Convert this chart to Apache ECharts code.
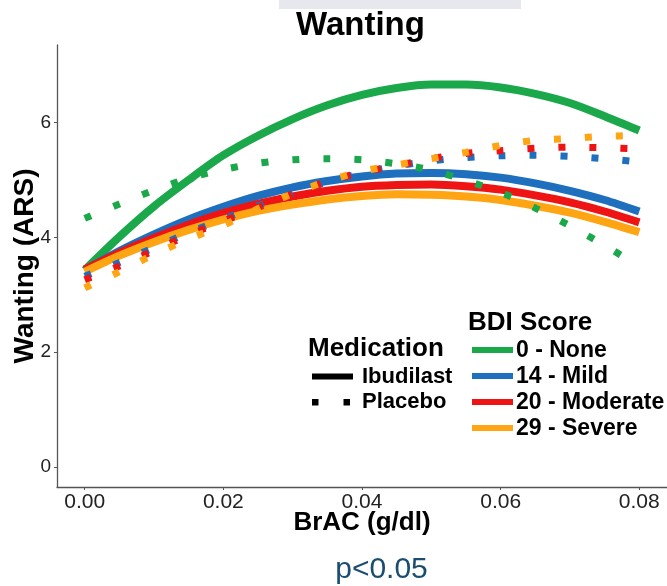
<!DOCTYPE html>
<html>
<head>
<meta charset="utf-8">
<script src="https://cdn.jsdelivr.net/npm/echarts@6/dist/echarts.min.js"></script>
<style>
html,body{margin:0;padding:0;background:#fff;}
#chart{width:667px;height:586px;}
</style>
</head>
<body>
<div id="chart"></div>
<script>
// BrAC (g/dl) sample points
const brac = [0, 0.005, 0.01, 0.015, 0.02, 0.025, 0.03, 0.035, 0.04, 0.045, 0.05, 0.055, 0.06, 0.065, 0.07, 0.075, 0.08];
// Ibudilast (solid) by BDI score
const ibudNone     = [3.43, 4.01, 4.54, 5.00, 5.43, 5.77, 6.06, 6.30, 6.48, 6.60, 6.66, 6.66, 6.61, 6.50, 6.34, 6.11, 5.86];
const ibudMild     = [3.43, 3.76, 4.05, 4.31, 4.53, 4.72, 4.87, 4.98, 5.06, 5.11, 5.12, 5.10, 5.04, 4.94, 4.81, 4.65, 4.45];
const ibudModerate = [3.44, 3.73, 3.99, 4.22, 4.42, 4.58, 4.71, 4.81, 4.88, 4.91, 4.92, 4.89, 4.83, 4.73, 4.61, 4.45, 4.26];
const ibudSevere   = [3.40, 3.68, 3.92, 4.13, 4.31, 4.46, 4.57, 4.66, 4.72, 4.75, 4.74, 4.71, 4.65, 4.55, 4.43, 4.27, 4.09];
// Placebo (dotted) by BDI score
const placNone     = [4.33, 4.58, 4.82, 5.03, 5.18, 5.29, 5.35, 5.37, 5.35, 5.28, 5.17, 4.99, 4.78, 4.51, 4.20, 3.86, 3.49];
const placMild     = [3.32, 3.56, 3.82, 4.08, 4.32, 4.55, 4.77, 4.96, 5.12, 5.24, 5.33, 5.39, 5.42, 5.43, 5.41, 5.37, 5.31];
const placModerate = [3.26, 3.50, 3.77, 4.04, 4.28, 4.52, 4.76, 4.97, 5.13, 5.25, 5.37, 5.46, 5.51, 5.55, 5.57, 5.56, 5.54];
const placSevere   = [3.12, 3.40, 3.70, 3.97, 4.21, 4.50, 4.76, 4.98, 5.15, 5.26, 5.37, 5.48, 5.60, 5.69, 5.72, 5.76, 5.77];

const xTicks = [0, 0.02, 0.04, 0.06, 0.08];
const yTicks = [0, 2, 4, 6];
const bdiLabels = ['0 - None', '14 - Mild', '20 - Moderate', '29 - Severe'];
const medLabels = ['Ibudilast', 'Placebo'];
const colors = ['#1aa84b', '#1f6fbf', '#ee1414', '#ffa514'];

const FONT = 'Liberation Sans, Arial, Helvetica, sans-serif';

function pts(ys) { return brac.map((x, i) => [x, ys[i]]); }

const ibud = [ibudNone, ibudMild, ibudModerate, ibudSevere];
const plac = [placNone, placMild, placModerate, placSevere];

const series = [];
ibud.forEach((ys, i) => {
  series.push({
    name: medLabels[0] + ' ' + bdiLabels[i], type: 'line', data: pts(ys), smooth: 0.3,
    showSymbol: false, symbol: 'none',
    lineStyle: { color: colors[i], width: 8, cap: 'butt' }, z: 2
  });
});
plac.forEach((ys, i) => {
  series.push({
    name: medLabels[1] + ' ' + bdiLabels[i], type: 'line', data: pts(ys), smooth: 0.3,
    showSymbol: false, symbol: 'none',
    lineStyle: { color: colors[i], width: 7, type: [7, 24], cap: 'butt' }, z: 3
  });
});

// legend (drawn as graphic)
const graphic = [
  { type: 'rect', shape: { x: 279, y: 0, width: 242, height: 9 }, style: { fill: '#e7e8ee' }, silent: true },
  { type: 'text', x: 468, y: 323, style: { text: 'BDI Score', font: 'bold 26px ' + FONT, fill: '#000', textVerticalAlign: 'middle' } },
  { type: 'text', x: 308, y: 349, style: { text: 'Medication', font: 'bold 26px ' + FONT, fill: '#000', textVerticalAlign: 'middle' } },
  { type: 'rect', shape: { x: 312, y: 373.5, width: 41, height: 6 }, style: { fill: '#000' } },
  { type: 'text', x: 362, y: 377, style: { text: medLabels[0], font: 'bold 22px ' + FONT, fill: '#000', textVerticalAlign: 'middle' } },
  { type: 'rect', shape: { x: 312, y: 399, width: 6.5, height: 6.5 }, style: { fill: '#000' } },
  { type: 'rect', shape: { x: 343.5, y: 399, width: 6.5, height: 6.5 }, style: { fill: '#000' } },
  { type: 'text', x: 362, y: 402, style: { text: medLabels[1], font: 'bold 22px ' + FONT, fill: '#000', textVerticalAlign: 'middle' } },
  { type: 'text', x: 381.5, y: 570, style: { text: 'p<0.05', font: '30px ' + FONT, fill: '#1b4d70', textAlign: 'center', textVerticalAlign: 'middle' } }
];
bdiLabels.forEach((lab, i) => {
  const cy = 350 + i * 26;
  graphic.push({ type: 'rect', shape: { x: 472, y: cy - 3, width: 41, height: 6 }, style: { fill: colors[i] } });
  graphic.push({ type: 'text', x: 516, y: cy + 1, style: { text: lab, font: 'bold 23px ' + FONT, fill: '#000', textVerticalAlign: 'middle' } });
});

const chart = echarts.init(document.getElementById('chart'), null, { renderer: 'canvas' });
chart.setOption({
  animation: false,
  backgroundColor: '#fff',
  title: {
    text: 'Wanting', left: 296, top: 9, padding: 0,
    textStyle: { fontFamily: FONT, fontWeight: 'bold', fontSize: 33, color: '#000' }
  },
  grid: { left: 57, top: 45, width: 611, height: 442, containLabel: false },
  xAxis: {
    type: 'value', min: -0.004, max: 0.084,
    name: 'BrAC (g/dl)', nameLocation: 'middle', nameGap: 23, nameMoveOverlap: false,
    nameTextStyle: { fontFamily: FONT, fontSize: 26, fontWeight: 'bold', color: '#000' },
    axisLine: { show: true, onZero: false, lineStyle: { color: '#555', width: 1.3 } },
    axisTick: { show: true, customValues: xTicks, length: 3, lineStyle: { color: '#555' } },
    axisLabel: { customValues: xTicks, formatter: v => v.toFixed(2), fontFamily: FONT, fontSize: 21, color: '#222', margin: 5 },
    splitLine: { show: false }
  },
  yAxis: {
    type: 'value', min: -0.35, max: 7.35,
    name: 'Wanting (ARS)', nameLocation: 'middle', nameGap: 18, nameMoveOverlap: false,
    nameTextStyle: { fontFamily: FONT, fontSize: 28, fontWeight: 'bold', color: '#000' },
    axisLine: { show: true, onZero: false, lineStyle: { color: '#555', width: 1.3 } },
    axisTick: { show: true, customValues: yTicks, length: 3, lineStyle: { color: '#555' } },
    axisLabel: { customValues: yTicks, fontFamily: FONT, fontSize: 19, color: '#222', margin: 6 },
    splitLine: { show: false }
  },
  graphic: graphic,
  series: series
});
</script>
</body>
</html>
